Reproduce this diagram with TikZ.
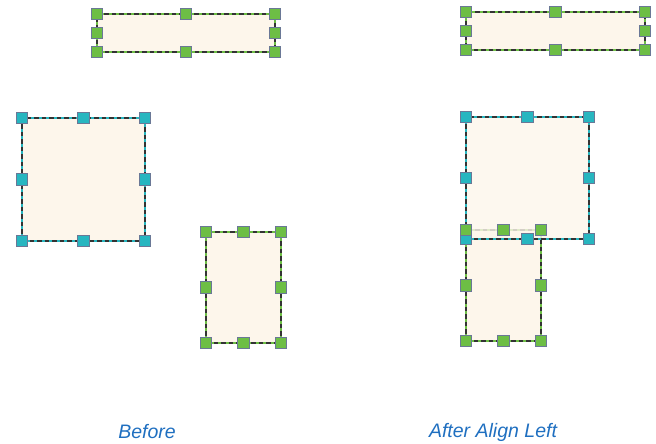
\documentclass[tikz,border=0pt]{standalone}
\usepackage{fontspec}
\setmainfont{Liberation Sans}
\definecolor{hgreen}{HTML}{6DBE45}
\definecolor{hteal}{HTML}{27B6C0}
\definecolor{hborder}{HTML}{6A7896}
\definecolor{rfill}{HTML}{FDF6EB}
\definecolor{lblue}{HTML}{1F6FC0}
\tikzset{
 selbox/.style={draw=black!80, line width=1.4pt, dash pattern=on 4.5pt off 3pt,
   preaction={fill=rfill, draw=#1, solid, line width=2.6pt}, inner sep=0pt, outer sep=0pt, anchor=north west},
 handle/.style={draw=hborder, line width=1.2pt, fill=#1, minimum size=11.5pt, inner sep=0pt},
 caption/.style={text=lblue, font=\itshape\fontsize{19.5}{22}\selectfont}
}
\newcommand{\myhandles}[2]{%
  \foreach \n/\a in {nw/north west, n/north, ne/north east, e/east, se/south east, s/south, sw/south west, w/west}
    {\node[handle=#2] (#1-\n) at (#1.\a) {};}%
}
\begin{document}
\begin{tikzpicture}[x=1pt,y=-1pt]
\useasboundingbox (0,0) rectangle (656,444);
% Before
\node[selbox=hgreen, minimum width=178pt, minimum height=38pt] (A) at (97,14) {};
\node[selbox=hteal, minimum width=123pt, minimum height=123pt] (B) at (22,118) {};
\node[selbox=hgreen, minimum width=75pt, minimum height=111pt] (C) at (206,232) {};
\myhandles{A}{hgreen}
\myhandles{B}{hteal}
\myhandles{C}{hgreen}
% After
\node[selbox=hgreen, minimum width=179pt, minimum height=38pt] (A2) at (466,12) {};
\node[selbox=hgreen, minimum width=75pt, minimum height=111pt] (C2) at (466,230) {};
\node[selbox=hteal, minimum width=123pt, minimum height=122pt, fill opacity=0.8] (B2) at (466,117) {};
\myhandles{A2}{hgreen}
\myhandles{B2}{hteal}
\myhandles{C2}{hgreen}
% captions
\node[caption] (before) at (147,432) {Before};
\node[caption] (after) at (493,432) {After Align Left};
\end{tikzpicture}
\end{document}
